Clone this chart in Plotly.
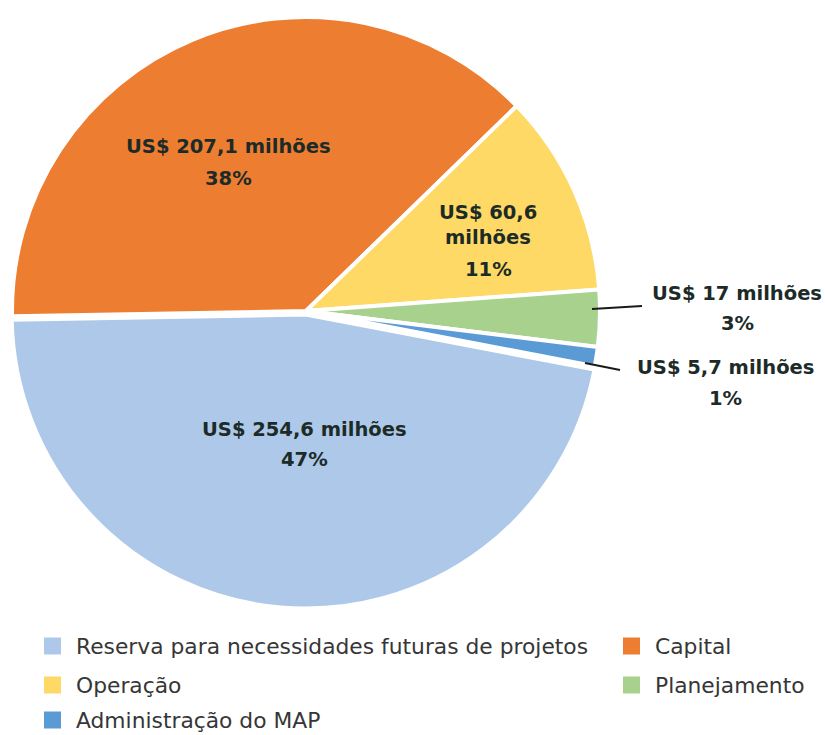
import plotly.graph_objects as go

# Budget allocation (US$ millions)
labels = [
    "Reserva para necessidades futuras de projetos",
    "Capital",
    "Operação",
    "Planejamento",
    "Administração do MAP",
]
values = [254.6, 207.1, 60.6, 17, 5.7]
colors = ["#adc8e8", "#ed7d31", "#ffd966", "#a9d18e", "#5b9bd5"]

W, H = 825, 735
TEXT = "#1c2b27"
LEG_TEXT = "#363636"
LABEL_FONT = "DejaVu Sans"
LEGEND_FONT = "DejaVu Sans"


def px(x):
    return x / W


def py(y):
    return 1 - y / H


total = sum(values)
money = ["US$ " + f"{v:g}".replace(".", ",") + " milhões" for v in values]
pcts = [f"{round(v / total * 100)}%" for v in values]

# pie geometry (pixels)
cx, cy, r = 306, 311, 294
pull = [0.012, 0, 0, 0, 0]
half = r * (1 + max(pull))

fig = go.Figure(
    go.Pie(
        labels=labels,
        values=values,
        sort=False,
        direction="clockwise",
        rotation=100.8,
        pull=pull,
        marker=dict(colors=colors, line=dict(color="white", width=4)),
        textinfo="none",
        hoverinfo="label+value+percent",
        showlegend=False,
        domain=dict(x=[px(cx - half), px(cx + half)], y=[py(cy + half), py(cy - half)]),
    )
)

# label line placements per slice: (x center, [y of each line]) in pixels
label_pos = [
    (304, [429, 459]),
    (228, [147, 179]),
    (488, [213, 238, 269]),
    (737, [293, 324]),
    (725, [367, 398]),
]

annotations = []
for i, (lx, ys) in enumerate(label_pos):
    if len(ys) == 3:
        head, tail = money[i].rsplit(" ", 1)
        lines = [head, tail, pcts[i]]
    else:
        lines = [money[i], pcts[i]]
    for text, ly in zip(lines, ys):
        annotations.append(
            dict(
                x=px(lx), y=py(ly), xref="paper", yref="paper",
                text=text, showarrow=False,
                xanchor="center", yanchor="middle",
                font=dict(family=LABEL_FONT, size=19.5, color=TEXT, weight=700),
            )
        )

# leader lines for the two small slices
shapes = [
    dict(type="line", xref="paper", yref="paper",
         x0=px(592), y0=py(309), x1=px(642), y1=py(306),
         line=dict(color="#1a1a1a", width=2)),
    dict(type="line", xref="paper", yref="paper",
         x0=px(585), y0=py(363), x1=px(620), y1=py(370),
         line=dict(color="#1a1a1a", width=2)),
]

# two-column legend
col_sq = [44, 623]
col_tx = [74, 653]
row_y = [646, 685, 720]
sq = 17
for i, lab in enumerate(labels):
    c, rw = i % 2, i // 2
    yc = row_y[rw]
    shapes.append(
        dict(type="rect", xref="paper", yref="paper",
             x0=px(col_sq[c]), x1=px(col_sq[c] + sq),
             y0=py(yc + sq / 2), y1=py(yc - sq / 2),
             fillcolor=colors[i], line=dict(width=0))
    )
    annotations.append(
        dict(x=px(col_tx[c]), y=py(yc), xref="paper", yref="paper",
             text=lab, showarrow=False, xanchor="left", yanchor="middle",
             font=dict(family=LEGEND_FONT, size=21.8, color=LEG_TEXT))
    )

fig.update_layout(
    width=W, height=H,
    margin=dict(l=0, r=0, t=0, b=0),
    paper_bgcolor="white",
    plot_bgcolor="white",
    annotations=annotations,
    shapes=shapes,
)

fig.write_html("out.html")
